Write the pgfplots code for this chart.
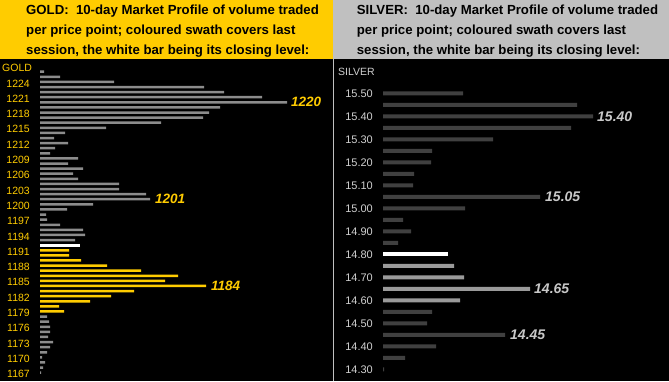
\documentclass[border=0pt]{standalone}
\usepackage{fontspec}
\setmainfont{Liberation Sans}
\usepackage{pgfplots}
\pgfplotsset{compat=1.18}
\definecolor{goldy}{HTML}{FFCC00}
\definecolor{bandgray}{HTML}{C0C0C0}
\definecolor{goldgray}{HTML}{8C8C8C}
\definecolor{sdark}{HTML}{404040}
\definecolor{slight}{HTML}{9A9A9A}
\definecolor{stext}{HTML}{D0D0D0}
\definecolor{slabel}{HTML}{C8C8C8}
\begin{document}
\begin{tikzpicture}[x=1pt,y=1pt]
\fill[black] (0,0) rectangle (669,381);
\fill[goldy] (0,321.5) rectangle (333.5,381);
\fill[bandgray] (333.5,321.5) rectangle (669,381);
\draw[bandgray, line width=1pt] (333.5,0) -- (333.5,381);
\tikzset{ttl/.style={anchor=base west, inner sep=0pt, text=black, font=\fontsize{13.2}{15}\selectfont\bfseries}}
\node[ttl] at (26,366) {GOLD:\ \ 10-day Market Profile of volume traded};
\node[ttl] at (26,346) {per price point; coloured swath covers last};
\node[ttl] at (26,326) {session, the white bar being its closing level:};
\node[ttl] at (356.7,366) {SILVER:\ \ 10-day Market Profile of volume traded};
\node[ttl] at (356.7,346) {per price point; coloured swath covers last};
\node[ttl] at (356.7,326) {session, the white bar being its closing level:};
\node[anchor=west, inner sep=0pt, text=goldy, font=\fontsize{10.5}{12}\selectfont] at (2,313) {GOLD};
\node[anchor=west, inner sep=0pt, text=stext, font=\fontsize{10.5}{12}\selectfont] at (338,309.5) {SILVER};

\begin{axis}[at={(40pt,0.65pt)}, anchor=south west, scale only axis,
  width=293pt, height=316.3pt, xmin=0, xmax=293, ymin=1165.5, ymax=1227.5,
  axis x line=none, axis y line*=left, y axis line style={draw=none},
  ytick style={draw=none},
  ytick={1167,1170,1173,1176,1179,1182,1185,1188,1191,1194,1197,1200,1203,1206,1209,1212,1215,1218,1221,1224},
  yticklabels={1167,1170,1173,1176,1179,1182,1185,1188,1191,1194,1197,1200,1203,1206,1209,1212,1215,1218,1221,1224},
  yticklabel style={font=\fontsize{10.5}{12}\selectfont, text=goldy, inner sep=0pt, xshift=-10pt, yshift=-1.5pt},
  clip=false]
\addplot[xbar, bar shift=0pt, bar width=2.5pt, fill=goldgray, draw=none] coordinates {
(4,1226) (20,1225) (74,1224) (164,1223) (184,1222) (222,1221) (247,1220) (180,1219)
(169,1218) (163,1217) (121,1216) (66,1215) (25,1214) (14,1213) (28,1212) (15,1211)
(10,1210) (38,1209) (28,1208) (43,1207) (33,1206) (38,1205) (79,1204) (79,1203)
(106,1202) (110,1201) (53,1200) (27,1199) (6,1198) (7,1197) (20,1196) (43,1195)
(45,1194) (35,1193)
(7,1178) (9,1177) (10,1176) (10,1175) (8,1174) (13,1173) (10,1172) (7,1171)
(2,1170) (5,1169) (3,1168) (1,1167)};
\addplot[xbar, bar shift=0pt, bar width=3.3pt, fill=white, draw=none] coordinates {(40,1192)};
\addplot[xbar, bar shift=0pt, bar width=2.5pt, fill=goldy, draw=none] coordinates {
(29,1191) (29,1190) (41,1189) (67,1188) (101,1187) (138,1186) (125,1185) (166,1184)
(94,1183) (71,1182) (50,1181) (19,1180) (24,1179)};
\tikzset{gann/.style={anchor=west, inner sep=0pt, text=goldy, font=\fontsize{13.5}{15}\selectfont\bfseries\itshape}}
\node[gann] at (axis cs:251,1220) {1220};
\node[gann] at (axis cs:115,1201) {1201};
\node[gann] at (axis cs:171,1184) {1184};
\end{axis}

\begin{axis}[at={(383pt,0.2pt)}, anchor=south west, scale only axis,
  width=286pt, height=299pt, xmin=0, xmax=286, ymin=14.25, ymax=15.55,
  axis x line=none, axis y line*=left, y axis line style={draw=none},
  ytick style={draw=none},
  ytick={14.3,14.4,14.5,14.6,14.7,14.8,14.9,15.0,15.1,15.2,15.3,15.4,15.5},
  yticklabels={14.30,14.40,14.50,14.60,14.70,14.80,14.90,15.00,15.10,15.20,15.30,15.40,15.50},
  yticklabel style={font=\fontsize{11}{12}\selectfont, text=stext, inner sep=0pt, xshift=-10pt},
  clip=false]
\addplot[xbar, bar shift=0pt, bar width=4pt, fill=sdark, draw=none] coordinates {
(80,15.50) (194,15.45) (210,15.40) (188,15.35) (110,15.30) (49,15.25) (48,15.20)
(31,15.15) (30,15.10) (157,15.05) (82,15.00) (20,14.95) (28,14.90) (15,14.85)
(49,14.55) (44,14.50) (122,14.45) (53,14.40) (22,14.35) (1,14.30)};
\addplot[xbar, bar shift=0pt, bar width=4.3pt, fill=white, draw=none] coordinates {(65,14.80)};
\addplot[xbar, bar shift=0pt, bar width=4pt, fill=slight, draw=none] coordinates {
(71,14.75) (81,14.70) (147,14.65) (77,14.60)};
\tikzset{sann/.style={anchor=west, inner sep=0pt, text=slabel, font=\fontsize{14}{15}\selectfont\bfseries\itshape}}
\node[sann] at (axis cs:214,15.40) {15.40};
\node[sann] at (axis cs:162,15.05) {15.05};
\node[sann] at (axis cs:151,14.65) {14.65};
\node[sann] at (axis cs:127,14.45) {14.45};
\end{axis}
\pgfresetboundingbox
\useasboundingbox (0,0) rectangle (669,381);
\end{tikzpicture}
\end{document}
